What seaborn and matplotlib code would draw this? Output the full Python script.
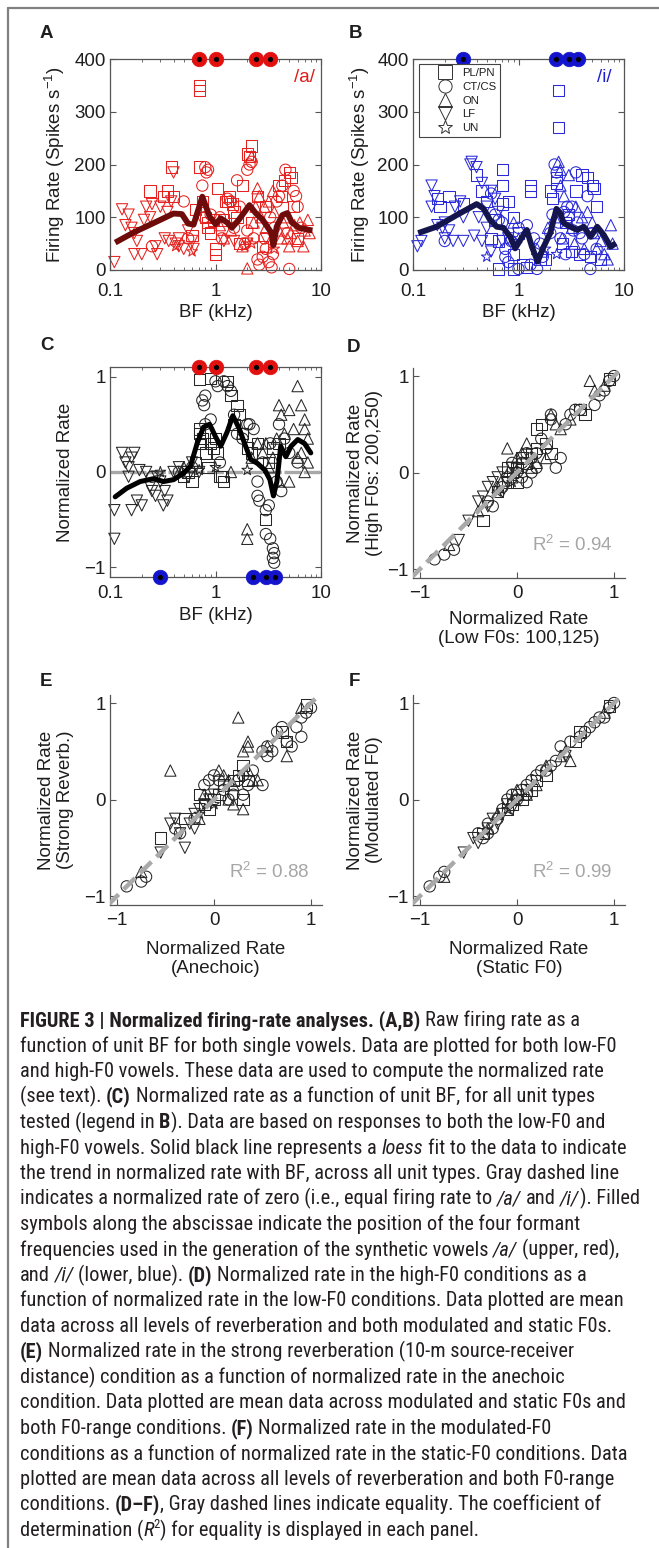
import os
import re
import matplotlib
matplotlib.use("Agg")
import matplotlib.pyplot as plt
from matplotlib import font_manager
from matplotlib.font_manager import FontProperties
from matplotlib.lines import Line2D
import numpy as np
import pandas as pd
import seaborn as sns

# ---------------- 数据 ----------------
unit_types = ["PL/PN", "CT/CS", "ON", "LF", "UN"]
unit_markers = {"PL/PN": "s", "CT/CS": "o", "ON": "^", "LF": "v", "UN": "*"}

a_formants_khz = [0.70, 1.0, 2.44, 3.25]
i_formants_khz = [0.30, 2.29, 3.0, 3.7]

# A: /a/ 原始放电率 (BF kHz, spikes/s)
a_pl = [(0.38, 195), (0.24, 150), (0.32, 140), (0.35, 150), (0.40, 140), (0.70, 340), (0.70, 350),
        (0.70, 195), (0.75, 130), (0.80, 100), (0.85, 80), (0.90, 70), (1.0, 40), (1.0, 30),
        (1.05, 155), (1.3, 130), (1.35, 140), (1.5, 110), (1.6, 100), (1.8, 160), (2.0, 220),
        (2.1, 215), (2.2, 235), (2.2, 90), (2.5, 140), (3.0, 120), (4.0, 160), (4.5, 170),
        (5.0, 185), (5.2, 175), (5.5, 120), (6.0, 60), (1.7, 50), (1.2, 95), (0.6, 65),
        (0.65, 115), (4.2, 140), (0.95, 95), (2.8, 45), (1.25, 130), (1.45, 125), (0.85, 90)]
a_ct = [(0.25, 45), (0.5, 130), (0.55, 60), (0.80, 195), (0.82, 185), (0.85, 190), (0.75, 160),
        (1.1, 100), (1.3, 135), (1.4, 130), (1.6, 170), (1.7, 120), (2.0, 190), (2.1, 200),
        (2.2, 205), (2.0, 75), (2.3, 60), (2.5, 20), (2.6, 10), (2.8, 25), (3.0, 40), (3.2, 15),
        (3.4, 5), (3.6, 80), (3.8, 130), (4.0, 140), (4.3, 160), (4.6, 190), (5.0, 2), (5.5, 150),
        (6.0, 120), (5.8, 140), (3.3, 100), (2.9, 60), (1.9, 50), (1.5, 80), (0.9, 105),
        (4.8, 70), (6.5, 80), (0.78, 100), (1.15, 60), (3.5, 30)]
a_on = [(1.2, 60), (1.4, 75), (1.8, 45), (2.0, 3), (2.3, 90), (2.5, 155), (2.6, 140), (2.7, 100),
        (2.9, 120), (3.0, 80), (3.2, 130), (3.6, 110), (4.0, 75), (4.4, 90), (4.8, 60), (5.2, 70),
        (5.6, 85), (6.0, 55), (6.3, 90), (7.0, 75), (7.5, 95), (7.8, 70), (2.2, 215), (1.1, 85),
        (3.5, 150), (4.2, 60), (5.0, 45), (6.8, 45), (2.4, 120), (4.6, 100)]
a_lf = [(0.11, 15), (0.13, 115), (0.14, 85), (0.15, 105), (0.16, 80), (0.17, 70), (0.18, 55),
        (0.20, 30), (0.22, 120), (0.25, 125), (0.28, 30), (0.30, 120), (0.33, 60), (0.36, 55),
        (0.38, 130), (0.40, 185), (0.42, 50), (0.45, 60), (0.50, 40), (0.55, 75), (0.60, 55),
        (0.62, 40), (0.17, 30), (0.21, 95), (0.24, 100), (0.35, 110), (0.45, 45), (0.27, 45),
        (1.2, 55), (1.5, 55), (2.0, 50), (3.0, 60)]
a_un = [(0.6, 35), (0.42, 45), (1.9, 45), (2.2, 50), (3.6, 40)]
a_loess_bf = [0.112, 0.167, 0.259, 0.40, 0.48, 0.55, 0.62, 0.75, 0.88, 1.0, 1.12, 1.29, 1.43,
              1.66, 2.1, 2.4, 2.8, 3.4, 3.54, 3.8, 4.3, 4.8, 5.3, 6.2, 7.7, 8.3]
a_loess_rate = [52, 71, 89, 107, 106, 88, 86, 139, 101, 87, 98, 90, 80, 95, 123, 108, 95, 70,
                47, 82, 104, 108, 90, 80, 76, 75]

# B: /i/ 原始放电率
b_pl = [(0.17, 135), (0.18, 120), (0.22, 140), (0.30, 125), (0.40, 180), (0.45, 150), (0.50, 130),
        (0.60, 95), (0.65, 55), (0.70, 190), (0.70, 160), (0.70, 125), (0.80, 130), (0.90, 100),
        (0.90, 30), (1.1, 10), (1.3, 160), (1.3, 150), (2.0, 150), (2.1, 135), (2.3, 175),
        (2.4, 340), (2.4, 270), (2.3, 165), (3.0, 105), (3.5, 150), (4.0, 180), (4.5, 175),
        (5.0, 160), (5.2, 155), (5.5, 120), (0.65, 2), (0.9, 2), (1.2, 5), (1.6, 20), (1.8, 20),
        (2.6, 50), (3.2, 35), (3.8, 30), (4.8, 25), (6.0, 20), (1.0, 70), (0.55, 60), (2.8, 90)]
b_ct = [(0.20, 55), (0.55, 145), (0.60, 105), (0.65, 95), (0.70, 90), (0.75, 40), (0.75, 25),
        (0.80, 15), (0.85, 55), (1.0, 2), (1.0, 80), (1.2, 85), (1.3, 10), (1.5, 2), (1.6, 50),
        (1.7, 25), (2.1, 105), (2.2, 200), (2.3, 185), (2.4, 90), (2.5, 60), (2.7, 110),
        (3.0, 100), (3.2, 120), (3.5, 185), (3.6, 90), (3.8, 70), (4.0, 60), (4.2, 30),
        (4.5, 140), (4.8, 2), (5.0, 70), (2.8, 30), (2.0, 70), (1.4, 60), (5.5, 40), (3.3, 75),
        (2.9, 120)]
b_on = [(0.9, 90), (1.5, 40), (1.7, 35), (1.9, 80), (2.2, 100), (2.4, 205), (2.5, 190), (2.5, 160),
        (2.7, 140), (3.0, 180), (3.2, 80), (3.5, 120), (4.0, 100), (4.5, 110), (5.0, 90),
        (5.5, 40), (6.0, 55), (6.5, 30), (7.0, 20), (7.5, 85), (7.8, 50), (2.6, 60), (3.4, 50),
        (4.2, 40), (5.2, 70)]
b_lf = [(0.11, 45), (0.12, 55), (0.15, 160), (0.16, 140), (0.15, 120), (0.17, 85), (0.20, 90),
        (0.20, 60), (0.22, 75), (0.25, 120), (0.28, 130), (0.30, 55), (0.35, 200), (0.36, 205),
        (0.40, 195), (0.45, 165), (0.42, 100), (0.50, 120), (0.50, 80), (0.55, 150), (0.60, 135),
        (0.65, 110), (0.30, 100), (0.24, 55), (0.19, 80), (0.38, 65), (0.45, 55), (0.55, 35),
        (0.70, 55), (0.80, 60)]
b_un = [(0.5, 25), (1.0, 60), (1.8, 40), (2.3, 30)]
b_loess_bf = [0.112, 0.167, 0.259, 0.401, 0.464, 0.537, 0.622, 0.72, 0.834, 0.93, 1.04, 1.2,
              1.34, 1.52, 1.73, 2.0, 2.29, 2.49, 2.68, 3.1, 3.6, 4.16, 4.82, 5.57, 6.45, 7.46, 8.4]
b_loess_rate = [70, 82, 104, 125, 117, 95, 82, 80, 63, 41, 57, 76, 44, 16, 44, 70, 116, 108, 89,
                82, 76, 82, 63, 82, 66, 44, 51]

# C: 归一化放电率
c_pl = [(0.50, -0.05), (0.55, 0.0), (0.60, -0.10), (0.65, 0.10), (0.70, 0.40), (0.70, 0.45),
        (0.72, 0.30), (0.75, 0.35), (0.70, 0.97), (0.80, 0.20), (0.85, 0.05), (0.90, 0.98),
        (0.90, 0.30), (1.0, 0.35), (1.05, 0.20), (1.1, -0.05), (1.2, -0.10), (1.3, 0.95),
        (1.4, 0.80), (1.5, 0.50), (1.6, 0.70), (1.7, 0.60), (1.8, 0.40), (2.0, 0.25), (2.2, 0.20),
        (2.5, 0.30), (3.0, -0.50), (3.2, 0.10), (3.5, 0.25), (4.0, 0.30), (1.15, -0.05),
        (0.95, 0.25)]
c_ct = [(0.25, -0.05), (0.45, 0.0), (0.75, 0.75), (0.78, 0.70), (0.80, 0.80), (0.80, 0.50),
        (0.90, 0.55), (1.0, 0.95), (1.05, 0.90), (1.2, 0.95), (1.3, 0.90), (1.4, 0.85), (1.5, 0.60),
        (1.6, 0.40), (1.8, 0.35), (2.0, 0.50), (2.1, 0.50), (2.3, 0.45), (2.5, -0.10),
        (2.5, -0.25), (2.6, -0.30), (3.0, -0.40), (3.2, -0.35), (3.0, -0.65), (3.3, -0.70),
        (3.5, -0.80), (3.5, -0.90), (3.6, -0.95), (3.6, -0.85), (3.8, -0.10), (4.0, 0.50),
        (4.2, -0.20), (4.5, 0.35), (5.0, 0.20), (6.0, 0.10), (1.1, 0.10), (2.8, 0.10), (3.3, 0.30),
        (0.6, 0.05)]
c_on = [(0.5, 0.05), (1.4, 0.0), (2.0, -0.60), (2.0, -0.70), (2.2, 0.15), (2.5, 0.30), (2.8, 0.20),
        (3.0, 0.30), (3.5, 0.15), (3.8, 0.35), (4.0, 0.70), (4.2, 0.60), (4.5, 0.40), (5.0, 0.65),
        (5.5, 0.45), (6.0, 0.90), (6.5, 0.70), (7.0, 0.55), (7.0, 0.45), (7.5, 0.35), (7.0, 0.0),
        (6.5, 0.20), (5.0, -0.10), (4.0, -0.10), (3.2, 0.05), (6.0, 0.15), (7.5, 0.10)]
c_lf = [(0.11, -0.40), (0.11, -0.70), (0.13, 0.20), (0.14, 0.10), (0.15, 0.05), (0.16, 0.15),
        (0.17, 0.20), (0.15, -0.05), (0.16, -0.40), (0.18, -0.30), (0.20, -0.35), (0.22, 0.0),
        (0.25, -0.20), (0.27, -0.25), (0.28, -0.05), (0.30, -0.10), (0.32, -0.35), (0.35, -0.30),
        (0.40, 0.0), (0.45, 0.05), (0.50, 0.0), (0.55, -0.05), (0.60, 0.10), (0.19, 0.02),
        (0.24, -0.15), (0.33, -0.20), (0.70, 0.0)]
c_un = [(0.3, 0.0), (0.7, 0.02), (1.0, 0.05), (2.0, 0.02)]
c_loess_bf = [0.112, 0.144, 0.193, 0.259, 0.322, 0.401, 0.50, 0.578, 0.67, 0.77, 0.88, 1.0, 1.12,
              1.29, 1.46, 1.67, 1.93, 2.16, 2.5, 2.94, 3.28, 3.54, 3.82, 4.15, 4.64, 5.2, 6.02,
              6.97, 8.0]
c_loess_rate = [-0.26, -0.17, -0.10, -0.07, -0.10, -0.08, -0.01, 0.06, 0.30, 0.47, 0.50, 0.37,
                0.27, 0.42, 0.59, 0.46, 0.27, 0.13, 0.09, 0.02, -0.08, -0.25, -0.10, 0.27, 0.16,
                0.27, 0.34, 0.30, 0.20]

# D: 低F0 vs 高F0
d_pl = [(-0.35, -0.50), (-0.10, -0.10), (-0.05, 0.0), (0.0, 0.05), (0.05, 0.15), (0.10, 0.10),
        (0.20, 0.25), (0.20, 0.45), (0.25, 0.50), (0.30, 0.30), (0.35, 0.20), (0.65, 0.65),
        (0.70, 0.60), (0.95, 0.97), (0.0, -0.10), (-0.20, -0.20), (0.15, 0.20), (-0.10, 0.05)]
d_ct = [(-0.85, -0.90), (-0.75, -0.85), (-0.65, -0.80), (-0.30, -0.30), (-0.25, -0.35),
        (-0.10, -0.05), (0.0, 0.0), (0.05, 0.10), (0.10, 0.20), (0.15, 0.15), (0.20, 0.05),
        (0.25, 0.35), (0.30, 0.25), (0.35, 0.55), (0.35, 0.60), (0.40, 0.05), (0.45, 0.15),
        (0.50, 0.50), (0.55, 0.60), (0.60, 0.65), (0.65, 0.65), (0.80, 0.70), (0.85, 0.80),
        (0.90, 0.85), (0.95, 0.95), (1.0, 1.0), (0.05, -0.05), (-0.05, 0.10), (0.15, 0.0),
        (0.20, 0.20), (-0.15, -0.15), (0.10, -0.10)]
d_on = [(-0.70, -0.75), (-0.40, -0.40), (-0.20, -0.15), (-0.10, 0.25), (0.0, 0.15), (0.05, 0.20),
        (0.10, 0.30), (0.30, 0.15), (0.35, 0.60), (0.40, 0.50), (0.45, 0.45), (0.55, 0.55),
        (0.75, 0.95), (0.80, 0.85), (0.90, 0.90), (0.20, 0.10), (-0.05, -0.05), (0.15, 0.05)]
d_lf = [(-0.60, -0.70), (-0.40, -0.30), (-0.35, -0.25), (-0.30, -0.15), (-0.25, -0.10),
        (-0.20, -0.05), (-0.15, 0.0), (-0.10, -0.10), (-0.05, 0.05), (-0.50, -0.50),
        (-0.30, -0.35), (-0.15, -0.20)]
d_un = [(-0.20, -0.20), (0.0, 0.0), (-0.05, -0.10)]

# E: 无混响 vs 强混响
e_pl = [(-0.55, -0.40), (-0.30, -0.20), (-0.15, 0.05), (-0.10, -0.05), (0.0, 0.0), (0.05, 0.05),
        (0.20, 0.20), (0.25, 0.25), (0.30, 0.35), (0.30, 0.0), (0.35, 0.20), (0.70, 0.70),
        (0.75, 0.60), (0.95, 0.98), (-0.05, -0.10), (0.10, 0.15)]
e_ct = [(-0.90, -0.90), (-0.75, -0.85), (-0.70, -0.80), (-0.40, -0.30), (-0.35, -0.35),
        (-0.10, 0.15), (-0.05, 0.20), (0.0, 0.25), (0.05, 0.20), (0.10, 0.10), (0.20, 0.05),
        (0.25, 0.20), (0.30, 0.25), (0.35, 0.15), (0.40, 0.30), (0.50, 0.15), (0.50, 0.50),
        (0.55, 0.55), (0.55, 0.45), (0.60, 0.50), (0.65, 0.70), (0.70, 0.75), (0.75, 0.60),
        (0.80, 0.55), (0.85, 0.75), (0.90, 0.65), (0.90, 0.85), (0.95, 0.90), (1.0, 0.95),
        (-0.20, -0.20), (0.15, 0.0), (0.30, 0.05)]
e_on = [(-0.75, -0.75), (-0.45, 0.30), (-0.15, -0.20), (-0.10, 0.05), (0.05, 0.30), (0.10, 0.25),
        (0.15, 0.0), (0.20, -0.05), (0.25, 0.85), (0.35, 0.60), (0.35, 0.55), (0.30, 0.50),
        (0.30, -0.10), (0.35, 0.30), (0.40, 0.20), (0.55, 0.55), (0.75, 0.45), (0.90, 0.95),
        (0.15, 0.20), (0.20, 0.15), (0.45, 0.20)]
e_lf = [(-0.55, -0.55), (-0.40, -0.20), (-0.35, -0.35), (-0.30, -0.50), (-0.25, -0.25),
        (-0.20, -0.15), (-0.10, -0.05), (-0.05, 0.0), (0.0, 0.05), (-0.20, -0.30),
        (-0.45, -0.25), (-0.15, -0.10)]
e_un = [(-0.15, -0.15), (0.0, -0.05)]

# F: 静态F0 vs 调制F0
f_pl = [(-0.35, -0.35), (-0.10, -0.10), (0.0, 0.05), (0.05, 0.0), (0.10, 0.10), (0.20, 0.20),
        (0.30, 0.25), (0.60, 0.60), (0.65, 0.70), (0.95, 0.97), (-0.05, -0.05), (0.15, 0.10)]
f_ct = [(-0.90, -0.90), (-0.80, -0.80), (-0.75, -0.75), (-0.40, -0.35), (-0.35, -0.40),
        (-0.30, -0.35), (-0.30, -0.25), (-0.20, -0.20), (-0.15, -0.10), (-0.10, 0.0),
        (-0.05, 0.05), (0.0, 0.0), (0.05, 0.10), (0.10, 0.15), (0.15, 0.20), (0.20, 0.25),
        (0.25, 0.30), (0.30, 0.30), (0.35, 0.35), (0.40, 0.40), (0.45, 0.55), (0.55, 0.60),
        (0.65, 0.65), (0.70, 0.70), (0.75, 0.75), (0.80, 0.80), (0.85, 0.85), (0.90, 0.85),
        (0.95, 0.95), (1.0, 1.0), (-0.25, -0.30), (0.10, 0.05)]
f_on = [(-0.75, -0.80), (-0.30, -0.30), (-0.20, -0.15), (0.0, 0.10), (0.10, 0.05), (0.20, 0.15),
        (0.30, 0.35), (0.45, 0.45), (0.50, 0.50), (0.55, 0.40), (0.90, 0.90), (-0.05, 0.0)]
f_lf = [(-0.55, -0.55), (-0.45, -0.40), (-0.40, -0.45), (-0.30, -0.30), (-0.20, -0.25),
        (-0.15, -0.15), (-0.10, -0.05), (-0.05, -0.10), (0.50, 0.45), (-0.25, -0.20)]
f_un = [(-0.10, -0.10), (0.0, -0.02)]

r2_labels = {"D": "0.94", "E": "0.88", "F": "0.99"}
equality_range = [-1.1, 1.05]

caption_lines = [
    "**FIGURE 3 | Normalized firing-rate analyses. (A,B)** Raw firing rate as a",
    "function of unit BF for both single vowels. Data are plotted for both low-F0",
    "and high-F0 vowels. These data are used to compute the normalized rate",
    "(see text). **(C)** Normalized rate as a function of unit BF, for all unit types",
    "tested (legend in **B**). Data are based on responses to both the low-F0 and",
    "high-F0 vowels. Solid black line represents a _loess_ fit to the data to indicate",
    "the trend in normalized rate with BF, across all unit types. Gray dashed line",
    "indicates a normalized rate of zero (i.e., equal firing rate to _/a/_ and _/i/_). Filled",
    "symbols along the abscissae indicate the position of the four formant",
    "frequencies used in the generation of the synthetic vowels _/a/_ (upper, red),",
    "and _/i/_ (lower, blue). **(D)** Normalized rate in the high-F0 conditions as a",
    "function of normalized rate in the low-F0 conditions. Data plotted are mean",
    "data across all levels of reverberation and both modulated and static F0s.",
    "**(E)** Normalized rate in the strong reverberation (10-m source-receiver",
    "distance) condition as a function of normalized rate in the anechoic",
    "condition. Data plotted are mean data across modulated and static F0s and",
    "both F0-range conditions. **(F)** Normalized rate in the modulated-F0",
    "conditions as a function of normalized rate in the static-F0 conditions. Data",
    "plotted are mean data across all levels of reverberation and both F0-range",
    "conditions. **(D\u2013F)**, Gray dashed lines indicate equality. The coefficient of",
    "determination (_R_^2^) for equality is displayed in each panel.",
]

# ---------------- 样式 ----------------
W, H = 659, 1548
sns.set_theme(style="ticks")
plt.rcParams["font.family"] = ["Liberation Sans", "DejaVu Sans"]
plt.rcParams["mathtext.fontset"] = "custom"
plt.rcParams["mathtext.rm"] = "Liberation Sans"
plt.rcParams["mathtext.it"] = "Liberation Sans:italic"
plt.rcParams["mathtext.default"] = "regular"


def narrow_font(weight, style):
    # 找一个窄体字体（图注用），找不到就退回普通字体
    cands = [("Liberation Sans Narrow", "normal"), ("Roboto Condensed", "normal"),
             ("Noto Sans Condensed", "normal"), ("Noto Sans", "condensed"),
             ("Open Sans Condensed", "normal"), ("Open Sans", "condensed"),
             ("Roboto", "condensed"), ("DejaVu Sans Condensed", "normal"),
             ("DejaVu Sans", "condensed")]
    for fam, stretch in cands:
        fp = FontProperties(family=fam, stretch=stretch, weight=weight, style=style)
        try:
            path = font_manager.findfont(fp, fallback_to_default=False)
        except ValueError:
            continue
        low = os.path.basename(path).lower()
        if "narrow" in low or "condensed" in low or "cond" in low:
            return FontProperties(fname=path)
    return FontProperties(family="Liberation Sans", weight=weight, style=style)


cap_fonts = {"n": narrow_font("normal", "normal"), "b": narrow_font("bold", "normal"),
             "i": narrow_font("normal", "italic"), "s": narrow_font("normal", "normal")}

FS = 13.5
SPINE = "#555555"
TXT = "#1e1e1e"

fig = plt.figure(figsize=(W / 100, H / 100), dpi=100)

boxes = {"A": (110, 59, 321, 270), "B": (413, 59, 624, 270), "C": (110, 367, 321, 577),
         "D": (413, 368, 625, 578), "E": (110, 695, 322, 905), "F": (413, 695, 625, 905)}
letters = {"A": (46, 34), "B": (355, 34), "C": (47, 346), "D": (354, 347), "E": (46, 681), "F": (354, 681)}


def make_ax(key):
    l, t, r, b = boxes[key]
    return fig.add_axes([l / W, 1 - b / H, (r - l) / W, (b - t) / H])


def frame(groups):
    rows = []
    for name, pts in zip(unit_types, groups):
        for x, y in pts:
            rows.append((x, y, name))
    return pd.DataFrame(rows, columns=["x", "y", "unit"])


def scatter(ax, df, color):
    sns.scatterplot(data=df, x="x", y="y", style="unit", style_order=unit_types,
                    markers=unit_markers, s=66, facecolor="none", edgecolor=color,
                    linewidth=0.75, legend=False, ax=ax, zorder=2, clip_on=False)


def style_ax(ax, box=True, xpad=4):
    for side, sp in ax.spines.items():
        sp.set_color(SPINE)
        sp.set_linewidth(0.9)
        if not box and side in ("top", "right"):
            sp.set_visible(False)
    ax.tick_params(which="both", direction="in", top=box, right=box, colors=SPINE,
                   labelcolor=TXT, labelsize=FS, pad=3)
    ax.tick_params(axis="x", which="both", pad=xpad)
    ax.tick_params(which="major", length=4, width=0.8)
    ax.tick_params(which="minor", length=2.5, width=0.6)
    ax.set_facecolor("white")


def formants(ax, xs, yv, color):
    sns.scatterplot(x=xs, y=[yv] * len(xs), color=color, s=110, edgecolor=color, linewidth=0.5,
                    ax=ax, legend=False, zorder=5, clip_on=False)
    sns.scatterplot(x=xs, y=[yv] * len(xs), color="black", s=14, linewidth=0, ax=ax,
                    legend=False, zorder=6, clip_on=False)


def log_axis(ax):
    ax.set_xscale("log")
    ax.set_xlim(0.1, 10)
    ax.set_xticks([0.1, 1, 10], labels=["0.1", "1", "10"])
    ax.set_xlabel("BF (kHz)", fontsize=FS, color=TXT, va="center")


# ---- A / B ----
for key, groups, color, lcolor, lx, ly, vowel, vcolor, fx, vx in [
    ("A", [a_pl, a_ct, a_on, a_lf, a_un], "#e5221f", "#6e0b0b", a_loess_bf, a_loess_rate,
     "/a/", "#e01b1b", a_formants_khz, 0.92),
    ("B", [b_pl, b_ct, b_on, b_lf, b_un], "#2a2ad8", "#15154d", b_loess_bf, b_loess_rate,
     "/i/", "#2020d0", i_formants_khz, 0.905),
]:
    ax = make_ax(key)
    log_axis(ax)
    ax.set_ylim(0, 400)
    ax.set_yticks([0, 100, 200, 300, 400])
    scatter(ax, frame(groups), color)
    sns.lineplot(x=lx, y=ly, color=lcolor, linewidth=4.2, ax=ax, sort=False, estimator=None,
                 zorder=4, solid_capstyle="butt")
    formants(ax, fx, 400, "#e31010" if key == "A" else "#1414cc")
    ax.text(vx, 0.91, vowel, transform=ax.transAxes, color=vcolor, fontsize=FS,
            ha="center", va="center")
    ax.set_ylabel("Firing Rate (Spikes s$^{-1}$)", fontsize=FS, color=TXT, va="center")
    ax.yaxis.set_label_coords(-0.26 if key == "A" else -0.25, 0.5)
    ax.xaxis.set_label_coords(0.5, -0.2)
    style_ax(ax, xpad=9)
    if key == "B":
        handles = [Line2D([], [], marker=unit_markers[u], ls="none", mfc="none", mec="#333333",
                          ms=9.5 if u != "UN" else 10, mew=0.7) for u in unit_types]
        leg = ax.legend(handles, unit_types, loc="upper left", bbox_to_anchor=(0.028, 0.976),
                        fontsize=8.2, frameon=True, fancybox=False, edgecolor="#444444",
                        handlelength=3.8, handletextpad=-0.35, labelspacing=0.33,
                        borderpad=0.35, borderaxespad=0, framealpha=1)
        leg.get_frame().set_linewidth(0.8)
        for t in leg.get_texts():
            t.set_color(TXT)

# ---- C ----
ax = make_ax("C")
log_axis(ax)
ax.set_ylim(-1.1, 1.1)
ax.set_yticks([-1, 0, 1])
ax.axhline(0, color="#a8a8a8", linewidth=2.4, dashes=(5, 0.8), zorder=1.5)
scatter(ax, frame([c_pl, c_ct, c_on, c_lf, c_un]), "#262626")
sns.lineplot(x=c_loess_bf, y=c_loess_rate, color="black", linewidth=3.6, ax=ax, sort=False,
             estimator=None, zorder=4)
formants(ax, a_formants_khz, 1.1, "#e31010")
formants(ax, i_formants_khz, -1.1, "#1414cc")
ax.set_ylabel("Normalized Rate", fontsize=FS, color=TXT, va="center")
ax.yaxis.set_label_coords(-0.213, 0.5)
ax.xaxis.set_label_coords(0.5, -0.183)
style_ax(ax, xpad=6)

# ---- D / E / F ----
for key, groups, ylab, xlab in [
    ("D", [d_pl, d_ct, d_on, d_lf, d_un], "Normalized Rate\n(High F0s: 200,250)",
     "Normalized Rate\n(Low F0s: 100,125)"),
    ("E", [e_pl, e_ct, e_on, e_lf, e_un], "Normalized Rate\n(Strong Reverb.)",
     "Normalized Rate\n(Anechoic)"),
    ("F", [f_pl, f_ct, f_on, f_lf, f_un], "Normalized Rate\n(Modulated F0)",
     "Normalized Rate\n(Static F0)"),
]:
    ax = make_ax(key)
    ax.set_xlim(-1.072, 1.113)
    ax.set_ylim(-1.093, 1.083)
    ax.set_xticks([-1, 0, 1])
    ax.set_yticks([-1, 0, 1])
    scatter(ax, frame(groups), "#262626")
    sns.lineplot(x=equality_range, y=equality_range, color="#a9a9a9", linewidth=3.2,
                 ax=ax, zorder=3).lines[-1].set_dashes((3.6, 1.6))
    ax.text(0.75, 0.157, "R$^2$ = " + r2_labels[key], transform=ax.transAxes,
            color="#a6a6a6", fontsize=FS, ha="center", va="center")
    ax.set_ylabel(ylab, fontsize=FS, color=TXT, va="center", linespacing=1.1)
    ax.set_xlabel(xlab, fontsize=FS, color=TXT, va="center", linespacing=1.15)
    ax.yaxis.set_label_coords(-0.226 if key != "E" else -0.255, 0.5)
    ax.xaxis.set_label_coords(0.5, -0.245 if key == "D" else -0.255)
    style_ax(ax, box=False, xpad=5)

# 面板字母
for k, (x, y) in letters.items():
    fig.text(x / W, 1 - y / H, k, fontsize=FS, fontweight="bold", color=TXT,
             ha="center", va="center")

# 边框
fig.add_artist(Line2D([8 / W, 1], [1 - 8 / H, 1 - 8 / H], transform=fig.transFigure,
                      color="#808080", linewidth=1.6))
fig.add_artist(Line2D([8 / W, 8 / W], [0, 1 - 8 / H], transform=fig.transFigure,
                      color="#808080", linewidth=1.6))

# ---------------- 图注 ----------------
renderer = fig.canvas.get_renderer()


def parse(line):
    out = []
    for part in re.split(r"(\*\*.*?\*\*|_.*?_|\^.*?\^)", line):
        if not part:
            continue
        if part.startswith("**"):
            out.append((part[2:-2], "b"))
        elif part.startswith("_"):
            out.append((part[1:-1], "i"))
        elif part.startswith("^"):
            out.append((part[1:-1], "s"))
        else:
            out.append((part, "n"))
    return out


def props(kind, fs):
    fp = cap_fonts[kind].copy()
    fp.set_size(fs * 0.62 if kind == "s" else fs)
    return dict(fontproperties=fp, color="#231f20")


def width(s, kw):
    t = fig.text(0, 0, "|" + s + "|", **kw)
    w1 = t.get_window_extent(renderer).width
    t.remove()
    t = fig.text(0, 0, "||", **kw)
    w2 = t.get_window_extent(renderer).width
    t.remove()
    return w1 - w2


parsed = [parse(l) for l in caption_lines]
fs0 = 12.0
widest = max(sum(width(s, props(k, fs0)) for s, k in segs) for segs in parsed)
cap_fs = min(fs0 * 619 / widest, 15.5)

x0, y0, dy = 20, 1026, 25.5
for i, segs in enumerate(parsed):
    x = x0
    yb = y0 + i * dy
    for s, k in segs:
        kw = props(k, cap_fs)
        lead = len(s) - len(s.lstrip(" "))
        core = s.strip(" ")
        ys = yb - (cap_fs * 1.39 * 0.38 if k == "s" else 0)
        if core:
            fig.text((x + width(" " * lead, kw)) / W, 1 - ys / H, core, ha="left",
                     va="baseline", **kw)
        x += width(s, kw)

fig.savefig("out.png", dpi=100, facecolor="white")
